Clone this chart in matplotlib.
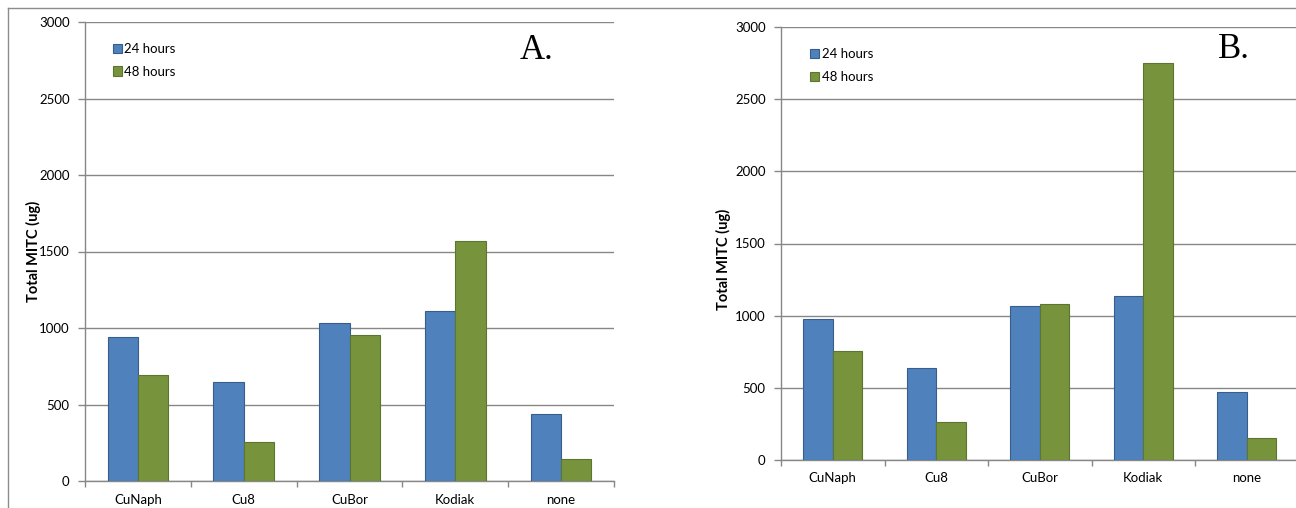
import matplotlib
matplotlib.use("Agg")
import matplotlib.pyplot as plt
import numpy as np
from matplotlib.lines import Line2D
from matplotlib.patches import Patch

categories = ["CuNaph", "Cu8", "CuBor", "Kodiak", "none"]
series_labels = ["24 hours", "48 hours"]
a_24h = [944, 645, 1031, 1110, 440]
a_48h = [691, 255, 957, 1570, 146]
b_24h = [978, 636, 1065, 1139, 469]
b_48h = [756, 263, 1082, 2748, 153]
y_ticks = [0, 500, 1000, 1500, 2000, 2500, 3000]
ylabel = "Total MITC (ug)"
panel_tags = ["A.", "B."]

BLUE = "#4F81BD"; BLUE_E = "#385D8A"
GREEN = "#77933C"; GREEN_E = "#5C7530"
GRID = "#878787"
FONT = "Lato"
FS = 9.5

W, H = 1296, 508
fig = plt.figure(figsize=(W / 100, H / 100), dpi=100)


def px_axes(left, right, y0, ytop):
    return fig.add_axes([left / W, (H - y0) / H, (right - left) / W, (y0 - ytop) / H])


def draw(ax, s24, s48, label_xy, leg_xy):
    n = len(categories)
    x = np.arange(n)
    bw = 1 / 3.5
    ax.bar(x - bw / 2, s24, bw, color=BLUE, edgecolor=BLUE_E, linewidth=0.8, zorder=3, label=series_labels[0])
    ax.bar(x + bw / 2, s48, bw, color=GREEN, edgecolor=GREEN_E, linewidth=0.8, zorder=3, label=series_labels[1])
    ax.set_xlim(-0.5, n - 0.5)
    ax.set_ylim(0, 3000)
    ax.set_yticks(y_ticks)
    ax.set_yticklabels([str(v) for v in y_ticks], fontsize=FS, family=FONT)
    ax.yaxis.grid(True, color=GRID, linewidth=1.0, zorder=0)
    ax.set_axisbelow(True)
    ax.tick_params(axis="y", direction="out", length=5, width=1.0, color=GRID, pad=6)
    ax.set_xticks(np.arange(-0.5, n, 1.0))
    ax.set_xticklabels([])
    ax.tick_params(axis="x", which="major", direction="out", length=4, width=1.0, color=GRID)
    ax.set_xticks(x, minor=True)
    ax.set_xticklabels(categories, minor=True, fontsize=FS, family=FONT)
    ax.tick_params(axis="x", which="minor", length=0, pad=9)
    for s in ["top", "right"]:
        ax.spines[s].set_visible(False)
    for s in ["left", "bottom"]:
        ax.spines[s].set_color(GRID)
        ax.spines[s].set_linewidth(1.0)
    ax.set_ylabel(ylabel, fontsize=10.5, fontweight="bold", family=FONT)
    ax.yaxis.set_label_coords(*label_xy)
    handles = [Patch(facecolor=BLUE, edgecolor=BLUE_E, linewidth=0.8),
               Patch(facecolor=GREEN, edgecolor=GREEN_E, linewidth=0.8)]
    ax.legend(handles, series_labels, loc="upper left", bbox_to_anchor=leg_xy,
              frameon=False, prop={"family": FONT, "size": FS},
              handlelength=0.7, handleheight=0.7, handletextpad=0.2,
              labelspacing=0.8, borderpad=0, borderaxespad=0)


axA = px_axes(85, 614, 481, 22)
draw(axA, a_24h, a_48h, (-0.083, 0.5), (0.052, 0.954))
axB = px_axes(781, 1298.5, 460, 27)
draw(axB, b_24h, b_48h, (-0.097, 0.464), (0.056, 0.951))

fig.text(537 / W, (H - 59) / H, panel_tags[0], family="Liberation Serif", fontsize=25,
         ha="center", va="baseline")
fig.text(1234 / W, (H - 58) / H, panel_tags[1], family="Liberation Serif", fontsize=25,
         ha="center", va="baseline")

# outer frame lines
fig.add_artist(Line2D([7.5 / W, 7.5 / W], [0, (H - 8) / H], color="#8C8C8C", linewidth=1.0))
fig.add_artist(Line2D([7.5 / W, 1.0], [(H - 8) / H, (H - 8) / H], color="#8C8C8C", linewidth=1.0))

fig.savefig("out.png", dpi=100)
